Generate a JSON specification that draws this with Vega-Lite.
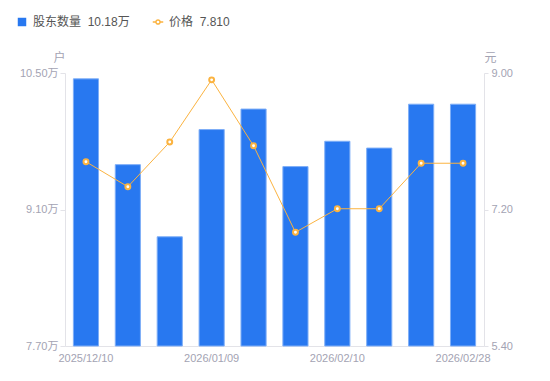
{
  "$schema": "https://vega.github.io/schema/vega-lite/v6.json",
  "width": 419,
  "height": 273,
  "autosize": {"type": "none"},
  "padding": {"left": 65, "top": 73, "right": 66, "bottom": 35},
  "background": "white",
  "config": {
    "view": {"stroke": null},
    "font": "Liberation Sans, Arial, Noto Sans CJK SC, sans-serif",
    "axis": {
      "grid": false,
      "domainColor": "#e3e3e8",
      "tickColor": "#e3e3e8",
      "labelColor": "#a3a3b3",
      "labelFontSize": 11,
      "titleColor": "#a3a3b3",
      "titleFontSize": 12,
      "titleFontWeight": "normal"
    },
    "legend": {
      "title": null,
      "orient": "none",
      "direction": "horizontal",
      "labelFontSize": 12,
      "labelColor": "#555555",
      "labelOffset": 5,
      "legendY": -57
    }
  },
  "data": {
    "values": [
      {"date": "2025/12/10", "holders": 10.44, "price": 7.83},
      {"date": "2025/12/19", "holders": 9.56, "price": 7.50},
      {"date": "2025/12/31", "holders": 8.82, "price": 8.09},
      {"date": "2026/01/09", "holders": 9.92, "price": 8.91},
      {"date": "2026/01/20", "holders": 10.13, "price": 8.04},
      {"date": "2026/01/30", "holders": 9.54, "price": 6.90},
      {"date": "2026/02/10", "holders": 9.80, "price": 7.21},
      {"date": "2026/02/13", "holders": 9.73, "price": 7.21},
      {"date": "2026/02/20", "holders": 10.18, "price": 7.81},
      {"date": "2026/02/28", "holders": 10.18, "price": 7.81}
    ]
  },
  "encoding": {
    "x": {
      "field": "date",
      "type": "ordinal",
      "sort": null,
      "scale": {"paddingInner": 0.4, "paddingOuter": 0.2},
      "axis": {
        "title": null,
        "values": ["2025/12/10", "2026/01/09", "2026/02/10", "2026/02/28"],
        "labelAngle": 0,
        "ticks": false,
        "labelPadding": 6
      }
    }
  },
  "layer": [
    {
      "mark": {"type": "bar", "stroke": "#7eaef7", "strokeWidth": 1},
      "encoding": {
        "y": {
          "field": "holders",
          "type": "quantitative",
          "scale": {"domain": [7.7, 10.5], "zero": false, "nice": false},
          "axis": {
            "values": [7.7, 9.1, 10.5],
            "labelExpr": "format(datum.value, '.2f') + '万'",
            "tickSize": 5,
            "labelPadding": 2,
            "title": "户",
            "titleAngle": 0,
            "titleAlign": "center",
            "titleBaseline": "bottom",
            "titleX": -6,
            "titleY": -9
          }
        },
        "y2": {"datum": 7.7},
        "fill": {
          "datum": "股东数量",
          "scale": {"domain": ["股东数量"], "range": ["#2878f0"]},
          "legend": {
            "legendX": -49,
            "symbolType": "square",
            "symbolSize": 72,
            "symbolStrokeWidth": 0,
            "symbolOpacity": 1,
            "labelExpr": "'股东数量\u00a0\u00a010.18万'"
          }
        }
      }
    },
    {
      "encoding": {
        "y": {
          "field": "price",
          "type": "quantitative",
          "scale": {"domain": [5.4, 9.0], "zero": false, "nice": false},
          "axis": {
            "orient": "right",
            "values": [5.4, 7.2, 9.0],
            "format": ".2f",
            "tickSize": 4,
            "labelPadding": 3,
            "title": "元",
            "titleAngle": 0,
            "titleAlign": "center",
            "titleBaseline": "bottom",
            "titleX": 6,
            "titleY": -9
          }
        }
      },
      "layer": [
        {
          "mark": {"type": "line", "strokeWidth": 1},
          "encoding": {
            "stroke": {
              "datum": "价格",
              "scale": {"domain": ["价格"], "range": ["#fbb340"]},
              "legend": {
                "legendX": 87,
                "symbolType": "M-1,0L-0.4,0M0.4,0L1,0M0.4,0A0.4,0.4 0 1 1 -0.4,0A0.4,0.4 0 1 1 0.4,0Z",
                "symbolSize": 110,
                "symbolStrokeWidth": 1.5,
                "symbolFillColor": "white",
                "symbolOpacity": 1,
                "labelExpr": "'价格\u00a0\u00a07.810'"
              }
            }
          }
        },
        {
          "mark": {"type": "point", "shape": "circle", "filled": false, "fill": "white", "stroke": "#fbb340", "strokeWidth": 2, "size": 24, "opacity": 1}
        }
      ]
    }
  ],
  "resolve": {"scale": {"y": "independent"}}
}
